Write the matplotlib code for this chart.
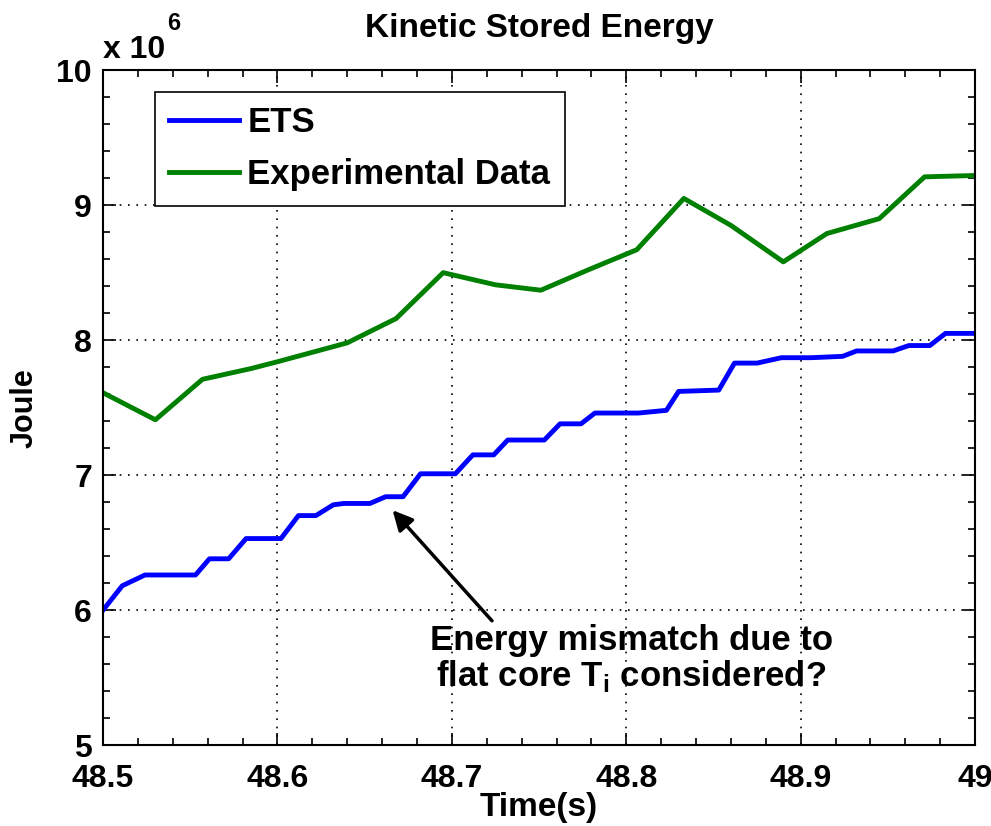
import numpy as np
import matplotlib
matplotlib.use('Agg')
import matplotlib.pyplot as plt
from matplotlib.ticker import MultipleLocator

plt.rcParams['font.family'] = ['Liberation Sans', 'DejaVu Sans']
plt.rcParams['font.weight'] = 'bold'
plt.rcParams['mathtext.fontset'] = 'custom'
plt.rcParams['mathtext.rm'] = 'Liberation Sans:bold'
plt.rcParams['mathtext.bf'] = 'Liberation Sans:bold'

# ETS simulation (x 10^6 J)
ets_t = [48.500, 48.511, 48.524, 48.553, 48.561, 48.572, 48.582, 48.602, 48.612,
         48.622, 48.632, 48.638, 48.653, 48.662, 48.672, 48.682, 48.702, 48.712,
         48.724, 48.732, 48.753, 48.762, 48.774, 48.782, 48.807, 48.823, 48.830,
         48.853, 48.862, 48.875, 48.889, 48.906, 48.924, 48.932, 48.953, 48.962,
         48.974, 48.983, 49.000]
ets_w = [6.00, 6.18, 6.26, 6.26, 6.38, 6.38, 6.53, 6.53, 6.70,
         6.70, 6.78, 6.79, 6.79, 6.84, 6.84, 7.01, 7.01, 7.15,
         7.15, 7.26, 7.26, 7.38, 7.38, 7.46, 7.46, 7.48, 7.62,
         7.63, 7.83, 7.83, 7.87, 7.87, 7.88, 7.92, 7.92, 7.96,
         7.96, 8.05, 8.05]

# experimental data (x 10^6 J)
exp_t = [48.500, 48.530, 48.557, 48.585, 48.600, 48.640, 48.668, 48.695, 48.725,
         48.751, 48.778, 48.806, 48.833, 48.860, 48.890, 48.915, 48.945, 48.971,
         49.000]
exp_w = [7.61, 7.41, 7.71, 7.79, 7.84, 7.98, 8.16, 8.50, 8.41,
         8.37, 8.52, 8.67, 9.05, 8.85, 8.58, 8.79, 8.90, 9.21,
         9.22]

fig = plt.figure(figsize=(9.91, 8.26), dpi=100)
ax = fig.add_axes([0.104, 0.098, 0.880, 0.817])

ax.plot(ets_t, ets_w, color='#0000ff', lw=3.5, label='ETS')
ax.plot(exp_t, exp_w, color='#008000', lw=3.5, label='Experimental Data')

ax.set_xlim(48.5, 49)
ax.set_ylim(5, 10)
ax.set_xticks([48.5, 48.6, 48.7, 48.8, 48.9, 49])
ax.set_xticklabels(['48.5', '48.6', '48.7', '48.8', '48.9', '49'])
ax.set_yticks([5, 6, 7, 8, 9, 10])
ax.xaxis.set_minor_locator(MultipleLocator(0.02))
ax.yaxis.set_minor_locator(MultipleLocator(0.2))
ax.tick_params(which='both', direction='in', top=True, right=True, width=1.2)
ax.tick_params(which='major', length=9, labelsize=23)
ax.tick_params(axis='x', which='major', pad=14)
ax.tick_params(axis='y', which='major', pad=8)
ax.tick_params(which='minor', length=5)
ax.grid(True, which='major', color='black', linestyle=(0, (1, 4)), lw=1.2)
for s in ax.spines.values():
    s.set_linewidth(1.5)

ax.set_title('Kinetic Stored Energy', fontsize=24, fontweight='bold', pad=24)
ax.set_xlabel('Time(s)', fontsize=24, fontweight='bold', labelpad=-2)
ax.set_ylabel('Joule', fontsize=22, fontweight='bold', labelpad=12)
ax.text(0.0, 1.008, 'x 10', transform=ax.transAxes, fontsize=23,
        fontweight='bold', ha='left', va='bottom')
ax.text(0.074, 1.052, '6', transform=ax.transAxes, fontsize=17,
        fontweight='bold', ha='left', va='bottom')

leg = ax.legend(loc='upper left', bbox_to_anchor=(0.059, 0.968), fontsize=25,
                handlelength=2.0, fancybox=False, framealpha=1,
                borderpad=0.42, labelspacing=0.55, handletextpad=0.25,
                borderaxespad=0)
leg.get_frame().set_edgecolor('black')
leg.get_frame().set_linewidth(1.2)
for t in leg.get_texts():
    t.set_fontweight('bold')

ax.annotate('Energy mismatch due to\nflat core T$_\\mathregular{i}$ considered?',
            xy=(48.666, 6.74), xytext=(48.803, 5.90),
            fontsize=25, fontweight='bold', ha='center', va='top',
            linespacing=1.05,
            arrowprops=dict(arrowstyle='-|>', color='black', lw=2.5,
                            mutation_scale=30, shrinkA=0, shrinkB=0,
                            relpos=(0.16, 1.0)))

fig.savefig('out.png', dpi=100)
